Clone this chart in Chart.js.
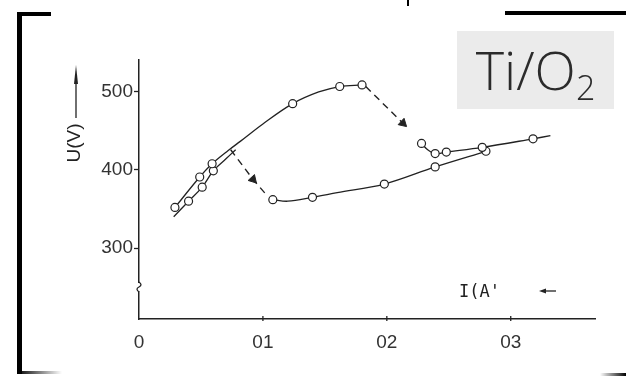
<!DOCTYPE html>
<html lang="en">
<head>
<meta charset="UTF-8">
<title>U-I Ti/O2</title>
<script src="https://cdn.jsdelivr.net/npm/chart.js"></script>
<style>
  html, body { margin: 0; padding: 0; background: #fff; }
  #wrap { position: relative; width: 626px; height: 376px; overflow: hidden; }
  #tag {
    position: absolute; left: 457px; top: 31px; width: 157px; height: 78px;
    background: #ebebeb; color: #2b2b2b;
    font-family: "Open Sans", sans-serif; font-weight: 300; font-size: 54px;
    line-height: 76px; text-align: center; white-space: nowrap;
  }
  #tag sub { font-size: 34px; vertical-align: -10px; line-height: 0; }
</style>
</head>
<body>
<div id="wrap">
  <canvas id="uiChart" width="626" height="376"></canvas>
  <div id="tag">Ti/O<sub>2</sub></div>
</div>
<script>
// ticks
const xTicks = [0, 0.1, 0.2, 0.3];
const xTickLabels = ['0', '01', '02', '03'];
const yTicks = [300, 400, 500];

// rising current, upper-left line and the top branch
const riseX = [0.029, 0.049, 0.059, 0.072, 0.082, 0.100, 0.124, 0.145, 0.162, 0.180];
const riseU = [352, 391, 408, 425, 437, 459, 485, 500, 507, 509];
const riseMark = [1, 1, 1, 0, 0, 0, 1, 0, 1, 1];

// jump from the top branch down to the right branch
const dropX = [0.183, 0.213];
const dropU = [507, 460];

// right branch
const rightX = [0.228, 0.233, 0.239, 0.248, 0.277, 0.318, 0.332];
const rightU = [434, 426, 421, 423, 429, 440, 444];
const rightMark = [1, 0, 1, 1, 1, 1, 0];

// falling current, lower branch
const lowX = [0.108, 0.120, 0.140, 0.160, 0.198, 0.239, 0.280];
const lowU = [362, 360, 365, 371, 382, 404, 424];
const lowMark = [1, 0, 1, 0, 1, 1, 1];

// jump from the left lines to the lower branch
const jumpX = [0.074, 0.092, 0.104];
const jumpU = [426, 388, 366];

// falling current, lower-right line on the left
const backX = [0.028, 0.040, 0.051, 0.060, 0.070, 0.078];
const backU = [340, 360, 378, 399, 414, 426];
const backMark = [0, 1, 1, 1, 0, 0];

const ink = '#222';
const pts = (xs, ys) => xs.map((x, i) => ({ x: x, y: ys[i] }));

function solid(xs, ys, marks) {
  return {
    data: pts(xs, ys),
    showLine: true,
    borderColor: ink,
    borderWidth: 1.3,
    tension: 0.35,
    pointStyle: 'circle',
    pointRadius: c => marks[c.dataIndex] ? 4 : 0,
    pointBackgroundColor: '#fff',
    pointBorderColor: ink,
    pointBorderWidth: 1.2
  };
}

function dashed(xs, ys, headAt, angle) {
  return {
    data: pts(xs, ys),
    showLine: true,
    borderColor: ink,
    borderWidth: 1.4,
    borderDash: [7, 5],
    tension: 0,
    pointStyle: 'triangle',
    rotation: angle,
    pointRadius: c => c.dataIndex === headAt ? 5 : 0,
    pointBackgroundColor: ink,
    pointBorderColor: ink,
    pointBorderWidth: 1
  };
}

// frame, axis break, inner x ticks and axis titles
const extras = {
  id: 'extras',
  afterDraw(chart) {
    const c = chart.ctx;
    const xs = chart.scales.x, ys = chart.scales.y;
    const ax = xs.getPixelForValue(0);
    const ay = ys.bottom;
    c.save();

    // bracket frame
    c.fillStyle = '#000';
    c.fillRect(17, 13, 5, 361);
    c.fillRect(17, 12, 34, 4);
    c.fillRect(505, 11, 121, 4);
    c.fillRect(407, 0, 2, 6);
    let g = c.createLinearGradient(17, 0, 62, 0);
    g.addColorStop(0, '#000'); g.addColorStop(1, 'rgba(0,0,0,0)');
    c.fillStyle = g;
    c.fillRect(17, 371, 45, 3);
    g = c.createLinearGradient(600, 0, 626, 0);
    g.addColorStop(0, 'rgba(0,0,0,0)'); g.addColorStop(1, '#000');
    c.fillStyle = g;
    c.fillRect(600, 373, 26, 3);

    // small ticks on the x axis
    c.strokeStyle = ink;
    c.lineWidth = 1.3;
    xTicks.slice(1).forEach(v => {
      const px = xs.getPixelForValue(v);
      c.beginPath(); c.moveTo(px, ay - 3); c.lineTo(px, ay + 2); c.stroke();
    });

    // break on the y axis
    const by = ys.getPixelForValue(250);
    c.fillStyle = '#fff';
    c.fillRect(ax - 3, by - 4, 6, 8);
    c.beginPath();
    c.moveTo(ax, by - 5);
    c.quadraticCurveTo(ax + 4, by - 2, ax, by);
    c.quadraticCurveTo(ax - 4, by + 2, ax, by + 5);
    c.stroke();

    // y title with arrow
    c.fillStyle = ink;
    c.font = '19px "Liberation Sans", sans-serif';
    c.textAlign = 'center';
    c.textBaseline = 'middle';
    c.save();
    c.translate(75, 143);
    c.rotate(-Math.PI / 2);
    c.fillText('U(V)', 0, 0);
    c.restore();
    c.beginPath(); c.moveTo(76, 118); c.lineTo(76, 84); c.stroke();
    c.beginPath();
    c.moveTo(76, 65); c.lineTo(78, 84); c.lineTo(74, 84); c.closePath(); c.fill();

    // x title with arrow
    c.font = '17px "DejaVu Sans Mono", monospace';
    c.textAlign = 'left';
    c.fillText("I(A'", 459, 293);
    c.beginPath(); c.moveTo(545, 291); c.lineTo(556, 291); c.stroke();
    c.beginPath();
    c.moveTo(539, 291); c.lineTo(546, 288.5); c.lineTo(546, 293.5); c.closePath(); c.fill();
    c.restore();
  }
};

const tickFont = { family: '"Liberation Sans", sans-serif', size: 19 };

new Chart(document.getElementById('uiChart'), {
  type: 'scatter',
  data: {
    datasets: [
      solid(riseX, riseU, riseMark),
      dashed(dropX, dropU, 1, 133),
      solid(rightX, rightU, rightMark),
      solid(lowX, lowU, lowMark),
      dashed(jumpX, jumpU, 1, 137),
      solid(backX, backU, backMark)
    ]
  },
  options: {
    responsive: false,
    animation: false,
    layout: { padding: { top: 60, right: 31, left: 0, bottom: 0 } },
    plugins: { legend: { display: false }, tooltip: { enabled: false } },
    scales: {
      x: {
        type: 'linear',
        min: 0,
        max: 0.368,
        afterBuildTicks: s => { s.ticks = xTicks.map(v => ({ value: v })); },
        afterFit: s => { s.height = 57; },
        grid: { display: false },
        border: { color: ink, width: 1.5 },
        ticks: {
          padding: 4,
          color: '#333',
          font: tickFont,
          maxRotation: 0,
          callback: (v, i) => xTickLabels[i]
        }
      },
      y: {
        min: 209,
        max: 541,
        afterBuildTicks: s => { s.ticks = yTicks.map(v => ({ value: v })); },
        afterFit: s => { s.width = 139; },
        grid: { drawOnChartArea: false, tickLength: 5, tickColor: ink, tickWidth: 1.3 },
        border: { color: ink, width: 1.5 },
        ticks: { padding: 1, color: '#333', font: tickFont }
      }
    }
  },
  plugins: [extras]
});
</script>
</body>
</html>
